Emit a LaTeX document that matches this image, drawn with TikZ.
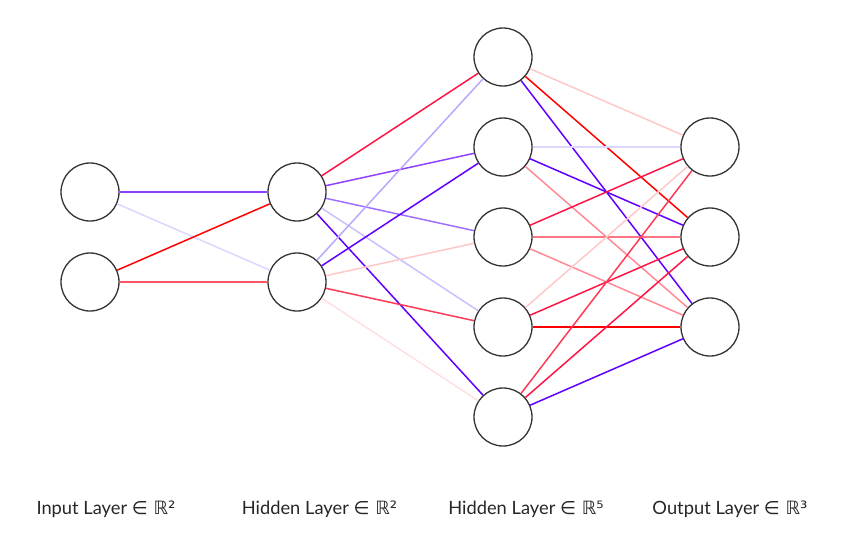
\documentclass[tikz,border=0pt]{standalone}
\usepackage{fontspec}
\setmainfont{Lato}
\newfontfamily\symfont{DejaVu Sans}
\definecolor{va}{HTML}{6000FF}
\definecolor{vb}{HTML}{9040FF}
\definecolor{vc}{HTML}{A070FF}
\definecolor{vd}{HTML}{B8A8FF}
\definecolor{ve}{HTML}{C8C0FF}
\definecolor{vf}{HTML}{DCD6FF}
\definecolor{ra}{HTML}{FF0000}
\definecolor{rb}{HTML}{FF1545}
\definecolor{rc}{HTML}{FF3A58}
\definecolor{rd}{HTML}{FF5565}
\definecolor{re}{HTML}{FF7585}
\definecolor{rf}{HTML}{FF8A95}
\definecolor{rg}{HTML}{FFC8C8}
\definecolor{rh}{HTML}{FFE0E0}
\definecolor{ring}{HTML}{333333}
\begin{document}
\begin{tikzpicture}[x=1pt,y=-1pt,
  neuron/.style={circle,draw=ring,line width=1.3pt,fill=white,minimum size=58pt,inner sep=0pt},
  wire/.style={line width=1.5pt},
  layerlabel/.style={font=\fontsize{18.3}{21}\selectfont,text=black!85,anchor=center}]
\useasboundingbox (0,0) rectangle (844,554);
% input
\node[neuron] (i1) at (90,192) {};
\node[neuron] (i2) at (90,282) {};
% hidden 1
\node[neuron] (a1) at (297,192) {};
\node[neuron] (a2) at (297,282) {};
% hidden 2
\node[neuron] (b1) at (503,57) {};
\node[neuron] (b2) at (503,147) {};
\node[neuron] (b3) at (503,237) {};
\node[neuron] (b4) at (503,327) {};
\node[neuron] (b5) at (503,417) {};
% output
\node[neuron] (c1) at (710,147) {};
\node[neuron] (c2) at (710,237) {};
\node[neuron] (c3) at (710,327) {};
% input -> hidden 1
\draw[wire,vb] (i1) -- (a1);
\draw[wire,vf] (i1) -- (a2);
\draw[wire,ra] (i2) -- (a1);
\draw[wire,rd] (i2) -- (a2);
% hidden 1 -> hidden 2
\draw[wire,rb] (a1) -- (b1);
\draw[wire,vb] (a1) -- (b2);
\draw[wire,vc] (a1) -- (b3);
\draw[wire,ve] (a1) -- (b4);
\draw[wire,va] (a1) -- (b5);
\draw[wire,vd] (a2) -- (b1);
\draw[wire,va] (a2) -- (b2);
\draw[wire,rg] (a2) -- (b3);
\draw[wire,rc] (a2) -- (b4);
\draw[wire,rh] (a2) -- (b5);
% hidden 2 -> output
\draw[wire,rg] (b1) -- (c1);
\draw[wire,ra] (b1) -- (c2);
\draw[wire,va] (b1) -- (c3);
\draw[wire,vf] (b2) -- (c1);
\draw[wire,va] (b2) -- (c2);
\draw[wire,rf] (b2) -- (c3);
\draw[wire,rb] (b3) -- (c1);
\draw[wire,re] (b3) -- (c2);
\draw[wire,rf] (b3) -- (c3);
\draw[wire,rg] (b4) -- (c1);
\draw[wire,rb] (b4) -- (c2);
\draw[wire,ra] (b4) -- (c3);
\draw[wire,rc] (b5) -- (c1);
\draw[wire,rb] (b5) -- (c2);
\draw[wire,va] (b5) -- (c3);
% labels
\node[layerlabel] (l1) at (106,509) {Input Layer {\symfont ∈ ℝ²}};
\node[layerlabel] (l2) at (319.5,509) {Hidden Layer {\symfont ∈ ℝ²}};
\node[layerlabel] (l3) at (526,509) {Hidden Layer {\symfont ∈ ℝ⁵}};
\node[layerlabel] (l4) at (730,509) {Output Layer {\symfont ∈ ℝ³}};
\end{tikzpicture}
\end{document}
